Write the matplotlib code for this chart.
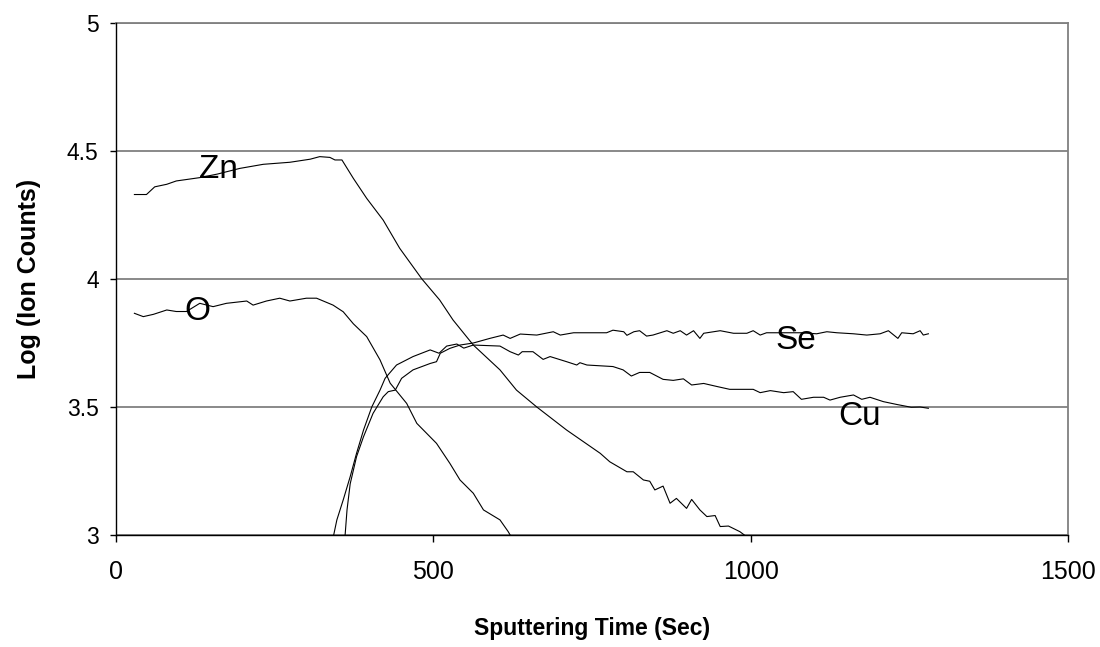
import matplotlib
matplotlib.use("Agg")
import matplotlib.pyplot as plt

plt.rcParams['font.family'] = ['Liberation Sans', 'DejaVu Sans']

# ---- data ----
zn_x = [29, 48, 61, 80, 95, 115, 132, 160, 195, 232, 274, 306, 321, 337, 345, 356,
        374, 395, 421, 447, 482, 510, 531, 563, 605, 631, 663, 710, 763, 778, 805,
        815, 831, 841, 849, 862, 873, 883, 899, 907, 920, 931, 944, 952, 965, 983, 990]
zn_y = [4.33, 4.33, 4.36, 4.37, 4.383, 4.39, 4.396, 4.41, 4.432, 4.448, 4.456, 4.468,
        4.478, 4.475, 4.465, 4.465, 4.393, 4.315, 4.23, 4.12, 4.0, 3.918, 3.84, 3.742,
        3.645, 3.566, 3.50, 3.41, 3.319, 3.286, 3.247, 3.247, 3.215, 3.21, 3.176, 3.191,
        3.124, 3.143, 3.104, 3.139, 3.098, 3.072, 3.076, 3.033, 3.035, 3.013, 3.0]

o_x = [29, 43, 59, 80, 95, 111, 132, 153, 174, 206, 216, 237, 258, 274, 300, 316,
       342, 358, 374, 395, 416, 432, 458, 474, 505, 526, 542, 563, 579, 605, 618, 621]
o_y = [3.866, 3.853, 3.862, 3.879, 3.873, 3.873, 3.905, 3.892, 3.905, 3.914, 3.898,
       3.914, 3.925, 3.914, 3.925, 3.925, 3.898, 3.872, 3.825, 3.775, 3.684, 3.593,
       3.514, 3.436, 3.358, 3.28, 3.215, 3.163, 3.098, 3.059, 3.013, 3.0]

cu_x = [343, 348, 358, 369, 379, 390, 403, 416, 424, 442, 468, 495, 509, 521, 537,
        548, 563, 605, 621, 634, 640, 657, 673, 684, 710, 726, 731, 742, 783, 799,
        812, 825, 841, 862, 878, 894, 907, 926, 947, 967, 988, 1004, 1015, 1031,
        1052, 1067, 1080, 1099, 1115, 1125, 1141, 1162, 1175, 1188, 1209, 1230,
        1253, 1267, 1280]
cu_y = [3.0, 3.059, 3.137, 3.228, 3.319, 3.41, 3.50, 3.566, 3.612, 3.664, 3.697,
        3.723, 3.71, 3.738, 3.746, 3.73, 3.742, 3.738, 3.716, 3.703, 3.716, 3.716,
        3.686, 3.697, 3.677, 3.664, 3.673, 3.664, 3.658, 3.645, 3.621, 3.635, 3.635,
        3.608, 3.604, 3.61, 3.586, 3.592, 3.58, 3.569, 3.569, 3.569, 3.556, 3.564,
        3.556, 3.56, 3.530, 3.538, 3.538, 3.527, 3.538, 3.547, 3.53, 3.538, 3.521,
        3.51, 3.499, 3.50, 3.495]

se_x = [361, 364, 369, 379, 390, 405, 421, 429, 440, 450, 468, 495, 505, 511, 526,
        542, 563, 589, 610, 621, 637, 663, 689, 700, 721, 773, 783, 800, 805, 816,
        825, 836, 846, 868, 878, 889, 899, 910, 920, 926, 952, 973, 994, 1004, 1015,
        1025, 1050, 1080, 1104, 1120, 1136, 1162, 1183, 1204, 1217, 1232, 1238, 1256,
        1267, 1272, 1280]
se_y = [3.0, 3.098, 3.20, 3.306, 3.384, 3.475, 3.54, 3.56, 3.566, 3.612, 3.645, 3.67,
        3.677, 3.71, 3.729, 3.742, 3.75, 3.768, 3.781, 3.768, 3.785, 3.781, 3.794,
        3.781, 3.79, 3.79, 3.80, 3.794, 3.78, 3.794, 3.798, 3.777, 3.781, 3.798, 3.788,
        3.798, 3.781, 3.798, 3.768, 3.788, 3.798, 3.788, 3.788, 3.798, 3.781, 3.79,
        3.79, 3.79, 3.786, 3.794, 3.79, 3.786, 3.781, 3.786, 3.798, 3.768, 3.79, 3.786,
        3.798, 3.781, 3.786]

series_labels = ["Zn", "O", "Se", "Cu"]
label_x = [161, 129, 1071, 1172]
label_y = [4.393, 3.84, 3.727, 3.43]

x_ticks = [0, 500, 1000, 1500]
y_ticks = [3, 3.5, 4, 4.5, 5]
y_tick_labels = ["3", "3.5", "4", "4.5", "5"]

# ---- figure ----
W, H = 1100, 647
fig = plt.figure(figsize=(W / 100, H / 100), dpi=100)
L, R, T, B = 116, 1068, 23, 535
ax = fig.add_axes([L / W, 1 - B / H, (R - L) / W, (B - T) / H])

for xs, ys in [(zn_x, zn_y), (o_x, o_y), (cu_x, cu_y), (se_x, se_y)]:
    ax.plot(xs, ys, color='black', lw=0.8, zorder=3)

for name, lx, ly in zip(series_labels, label_x, label_y):
    ax.text(lx, ly, name, fontsize=24, ha='center', va='baseline', zorder=4)

ax.set_xlim(0, 1500)
ax.set_ylim(3, 5)
ax.set_xticks(x_ticks)
ax.set_xticklabels([str(v) for v in x_ticks])
ax.set_yticks(y_ticks)
ax.set_yticklabels(y_tick_labels)

ax.yaxis.grid(True, color='#808080', lw=1.3)
ax.set_axisbelow(True)

for s in ['left', 'bottom']:
    ax.spines[s].set_color('black')
    ax.spines[s].set_linewidth(1.0)
    ax.spines[s].set_zorder(5)
for s in ['top', 'right']:
    ax.spines[s].set_color('#808080')
    ax.spines[s].set_linewidth(1.3)

ax.tick_params(axis='y', direction='out', length=4, width=1, pad=8.5, labelsize=16.5, color='black')
ax.tick_params(axis='x', direction='out', length=5, width=1, pad=13, labelsize=18, color='black')

fig.text(592 / W, 1 - 629 / H, "Sputtering Time (Sec)", fontsize=16.5, fontweight='bold',
         ha='center', va='center')
fig.text(29 / W, 1 - 279 / H, "Log (Ion Counts)", fontsize=18, fontweight='bold',
         ha='center', va='center', rotation=90)

fig.savefig("out.png", dpi=100)
